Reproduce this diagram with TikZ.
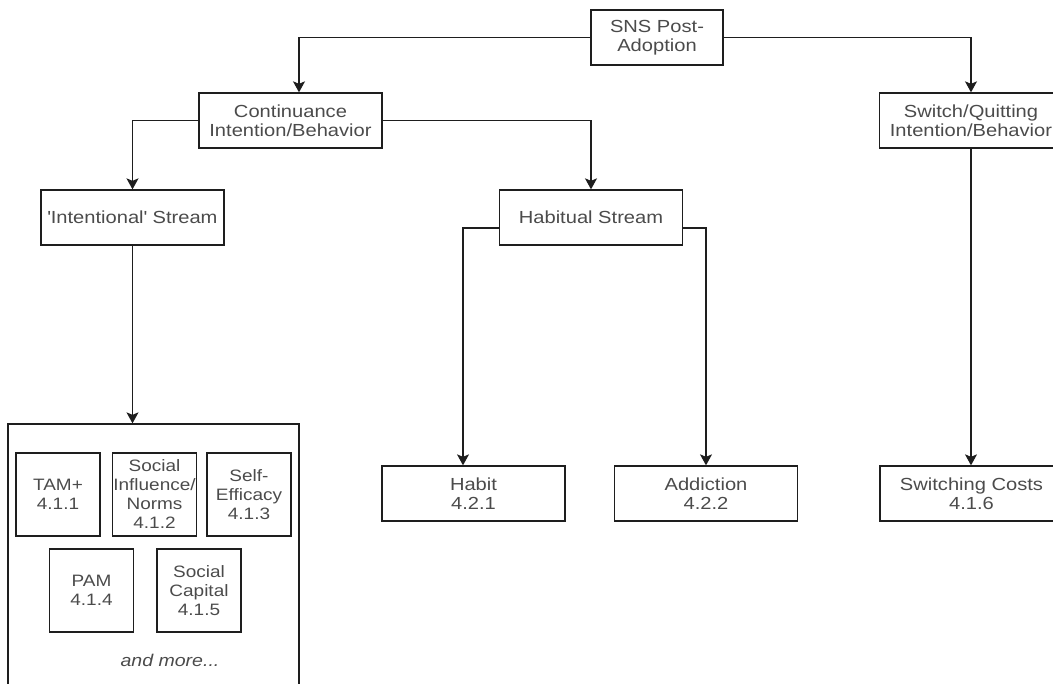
\documentclass[tikz,border=0pt]{standalone}
\usepackage{fontspec}
\setmainfont[FakeStretch=1.15]{Liberation Sans}
\usepackage{tikz}
\usetikzlibrary{arrows.meta, positioning, calc}
\definecolor{boxline}{RGB}{30,30,30}
\definecolor{boxtext}{RGB}{75,75,75}

\tikzset{
  box/.style={draw=boxline, line width=1.3pt, minimum width=183pt, minimum height=55pt,
    inner sep=0pt, align=center, text=boxtext, font=\fontsize{17.5}{19}\selectfont},
  topicbox/.style={box, minimum width=84pt, minimum height=83pt,
    font=\fontsize{16.5}{19}\selectfont},
  arr/.style={draw=boxline, line width=1.3pt, -{Stealth[length=11pt, width=12pt, inset=2.5pt]}}
}

\begin{document}
\begin{tikzpicture}[x=1pt, y=-1pt]
  \useasboundingbox (0,0) rectangle (1053,684);
  \clip (0,0) rectangle (1053,684);

  % Top level
  \node[box, minimum width=132pt] (sns) at (657,37.5) {SNS Post-\\Adoption};

  % Second level
  \node[box] (cont) at (290.5,120.5) {Continuance\\Intention/Behavior};
  \node[box] (switch) at (971,120.5) {Switch/Quitting\\Intention/Behavior};

  % Streams
  \node[box] (intent) at (132.5,217.5) {\textquotesingle Intentional\textquotesingle{} Stream};
  \node[box] (habitual) at (591,217.5) {Habitual Stream};

  % Leaves
  \node[box] (habit) at (473.5,493.5) {Habit\\4.2.1};
  \node[box] (addict) at (706,493.5) {Addiction\\4.2.2};
  \node[box] (costs) at (971.5,493.5) {Switching Costs\\4.1.6};

  % Group of intentional theories
  \node[box, minimum width=291pt, minimum height=276pt] (group) at (153.5,562) {};
  \node[topicbox] (tam) at (58,494.5) {TAM+\\4.1.1};
  \node[topicbox] (social) at (154.5,494.5) {Social\\Influence/\\Norms\\4.1.2};
  \node[topicbox] (self) at (249,494.5) {Self-\\Efficacy\\4.1.3};
  \node[topicbox] (pam) at (91.5,590.5) {PAM\\4.1.4};
  \node[topicbox] (capital) at (199,590.5) {Social\\Capital\\4.1.5};
  \node[text=boxtext, font=\fontsize{17}{19}\selectfont\itshape] (more) at (170,660) {and more...};

  % Connectors
  \draw[arr] (sns.west) -| ($(cont.north)+(8.5,0)$);
  \draw[arr] (sns.east) -| (switch.north);
  \draw[arr] (cont.west) -| (intent.north);
  \draw[arr] (cont.east) -| (habitual.north);
  \draw[arr] ($(habitual.west)+(0,10.5)$) -| ($(habit.north)+(-10.5,0)$);
  \draw[arr] ($(habitual.east)+(0,10.5)$) -| (addict.north);
  \draw[arr] (intent.south) -- (intent.south |- group.north);
  \draw[arr] (switch.south) -- (costs.north -| switch.south);
\end{tikzpicture}
\end{document}
